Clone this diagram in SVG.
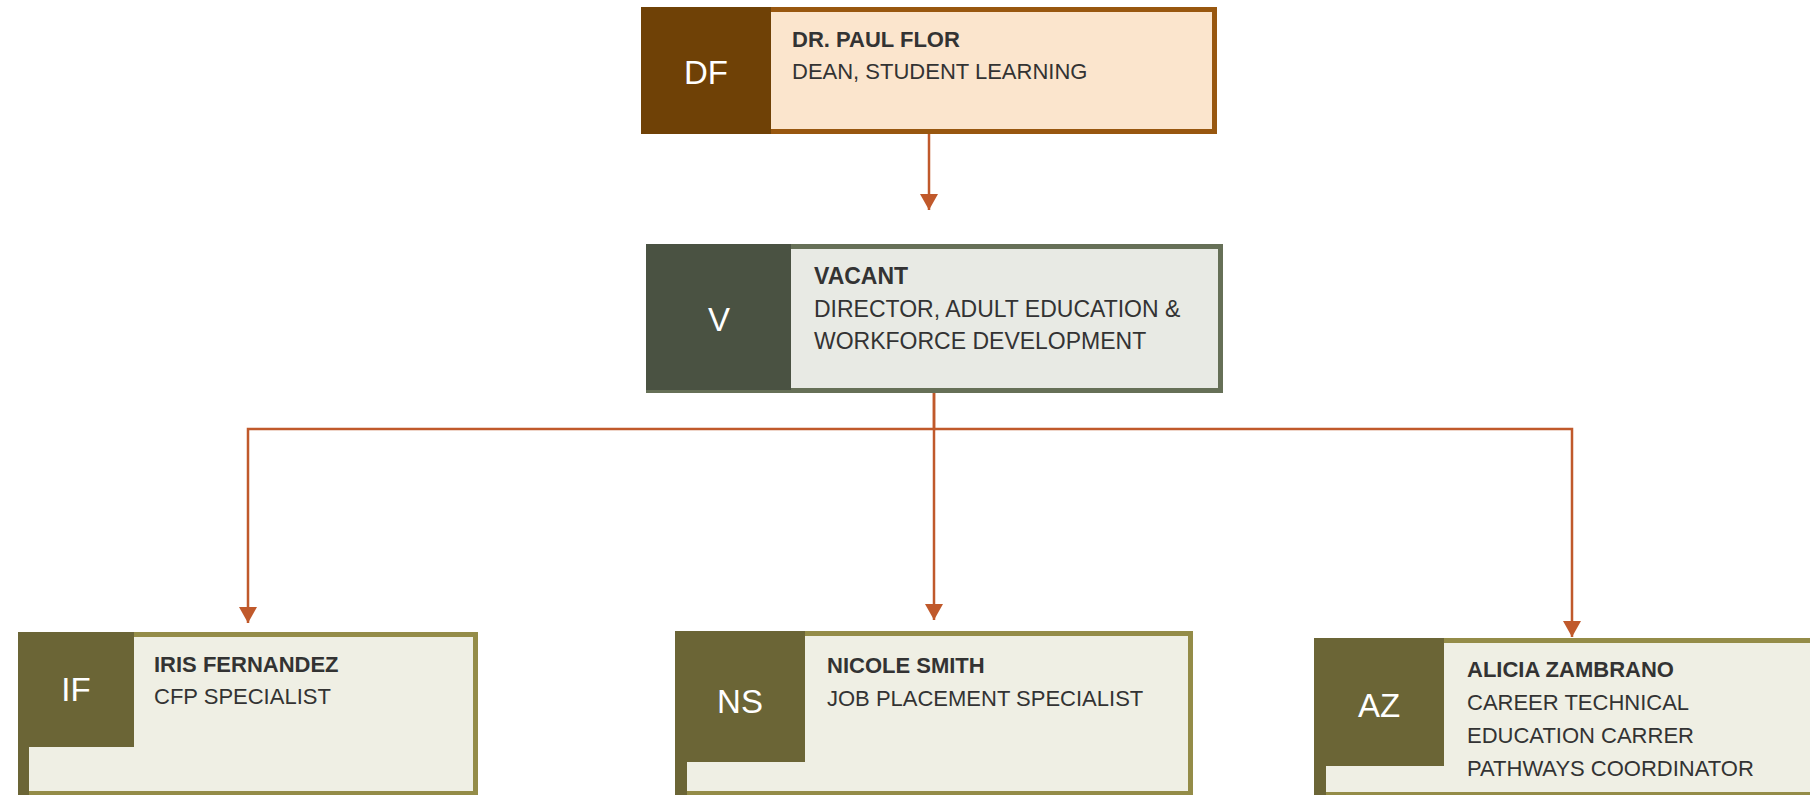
<svg xmlns="http://www.w3.org/2000/svg" width="1810" height="795" viewBox="0 0 1810 795">
<style>
text{font-family:"Liberation Sans",Arial,sans-serif;}
.nm{font-size:22px;font-weight:bold;fill:#333333;}
.tt{font-size:22px;fill:#333333;}
.big{font-size:23px;}
.ini{font-size:33px;fill:#ffffff;text-anchor:middle;}
.conn{fill:none;stroke:#C0592B;stroke-width:2.5;}
.dfL{fill:#FBE5CD;stroke:#98570F;stroke-width:5;}
.dfD{fill:#6F4106;}
.vL{fill:#E8EAE4;stroke:#667057;stroke-width:5;}
.vD{fill:#4A5242;}
.oL{fill:#EFEFE4;stroke:#948C48;stroke-width:5;}
.oD{fill:#6B6536;}
</style>
<defs>
<marker id="arr" markerUnits="userSpaceOnUse" markerWidth="18" markerHeight="18" refX="16" refY="9" orient="auto">
<path d="M0,0 L16,9 L0,18 Z" fill="#C0592B"/>
</marker>
</defs>
<rect width="1810" height="795" fill="#ffffff"/>
<g id="connectors">
<path class="conn" d="M929,134 V210" marker-end="url(#arr)"/>
<path class="conn" d="M934,391 V429 H248 V623" marker-end="url(#arr)"/>
<path class="conn" d="M934,391 V620" marker-end="url(#arr)"/>
<path class="conn" d="M934,429 H1572 V637" marker-end="url(#arr)"/>
</g>
<g id="node-df">
<rect class="dfL" x="643.5" y="9.5" width="571" height="122"/>
<rect class="dfD" x="641" y="7" width="130" height="127"/>
<text class="ini" x="706" y="84">DF</text>
<text class="nm" x="792" y="47">DR. PAUL FLOR</text>
<text class="tt" x="792" y="79">DEAN, STUDENT LEARNING</text>
</g>
<g id="node-v">
<rect class="vL" x="648.5" y="246.5" width="572" height="144"/>
<rect class="vD" x="646" y="244" width="145" height="146"/>
<text class="ini" x="719" y="331">V</text>
<text class="nm big" x="814" y="284">VACANT</text>
<text class="tt big" x="814" y="317">DIRECTOR, ADULT EDUCATION &amp;</text>
<text class="tt big" x="814" y="349">WORKFORCE DEVELOPMENT</text>
</g>
<g id="node-if">
<rect class="oL" x="20.5" y="634.5" width="455" height="159"/>
<rect class="oD" x="18" y="632" width="11" height="170"/>
<rect class="oD" x="18" y="632" width="116" height="115"/>
<text class="ini" x="76" y="701">IF</text>
<text class="nm" x="154" y="672">IRIS FERNANDEZ</text>
<text class="tt" x="154" y="704">CFP SPECIALIST</text>
</g>
<g id="node-ns">
<rect class="oL" x="677.5" y="633.5" width="513" height="160"/>
<rect class="oD" x="675" y="631" width="12" height="170"/>
<rect class="oD" x="675" y="631" width="130" height="131"/>
<text class="ini" x="740" y="713">NS</text>
<text class="nm" x="827" y="673">NICOLE SMITH</text>
<text class="tt" x="827" y="706">JOB PLACEMENT SPECIALIST</text>
</g>
<g id="node-az">
<rect class="oL" x="1316.5" y="640.5" width="520" height="154"/>
<rect class="oD" x="1314" y="638" width="12" height="165"/>
<rect class="oD" x="1314" y="638" width="130" height="128"/>
<text class="ini" x="1379" y="717">AZ</text>
<text class="nm" x="1467" y="677">ALICIA ZAMBRANO</text>
<text class="tt" x="1467" y="710">CAREER TECHNICAL</text>
<text class="tt" x="1467" y="743">EDUCATION CARRER</text>
<text class="tt" x="1467" y="776">PATHWAYS COORDINATOR</text>
</g>
</svg>
